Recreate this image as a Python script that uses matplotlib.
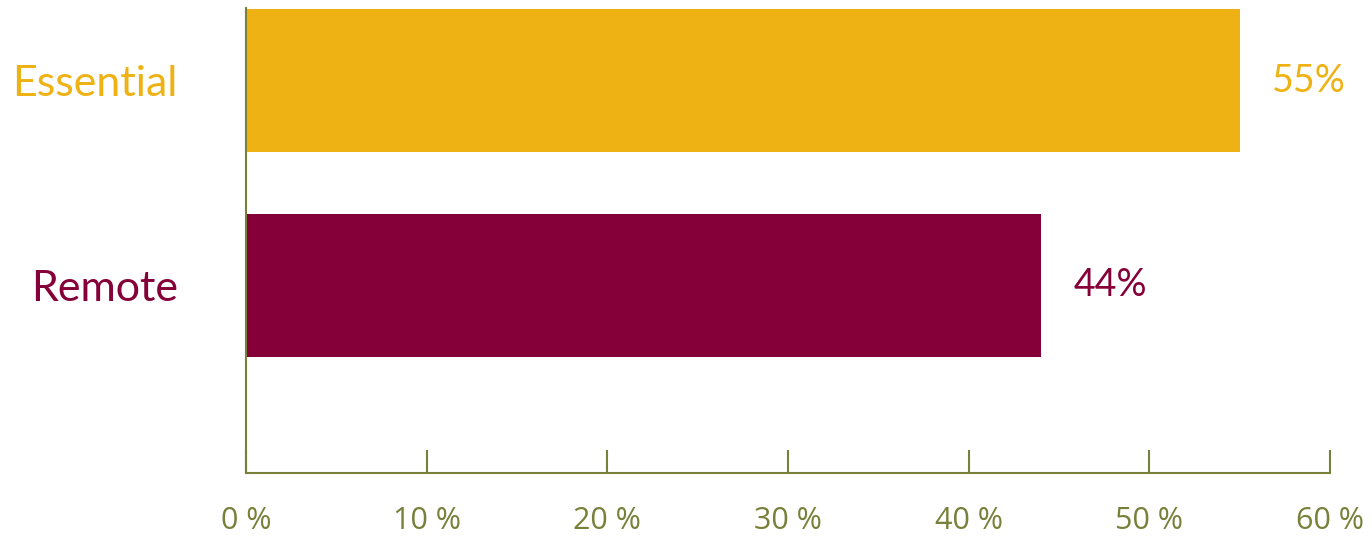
import matplotlib.pyplot as plt

# data
categories = ['Essential', 'Remote']
values = [55, 44]
bar_colors = ['#EFB214', '#850038']
xticks = [0, 10, 20, 30, 40, 50, 60]
xtick_labels = [str(t) + ' %' for t in xticks]

olive = '#78803A'

fig = plt.figure(figsize=(13.72, 5.4), dpi=100)
ax = fig.add_axes([246/1372, 67/540, 1084/1372, 465/540])

ypos = [2, 1]
ax.barh(ypos, values, height=0.70, color=bar_colors)

ax.set_xlim(0, 60)
ax.set_ylim(0.085, 2.354)

# category labels on the left, coloured like the bars
ax.set_yticks(ypos)
ax.set_yticklabels(categories, fontsize=31, family='Lato')
for lbl, c in zip(ax.get_yticklabels(), bar_colors):
    lbl.set_color(c)
ax.tick_params(axis='y', length=0, pad=49)

# value labels
for y, v, c in zip(ypos, values, bar_colors):
    ax.text(v + 1.8, y, str(v) + '%', color=c, fontsize=27, family='Lato',
            va='center', ha='left')

ax.set_xticks(xticks)
ax.set_xticklabels(xtick_labels, fontsize=22, family='Open Sans', color=olive)
ax.tick_params(axis='x', direction='in', length=16.5, width=1.5, color=olive, pad=24)

for s in ['top', 'right']:
    ax.spines[s].set_visible(False)
for s in ['left', 'bottom']:
    ax.spines[s].set_color(olive)
    ax.spines[s].set_linewidth(1.5)

fig.savefig('out.png', dpi=100)
